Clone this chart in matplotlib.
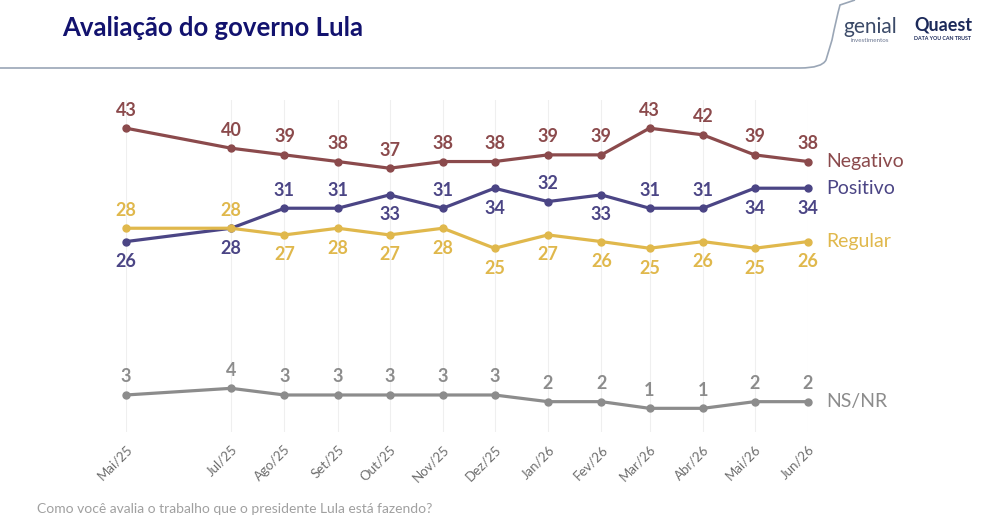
from matplotlib import pyplot as plt
from matplotlib.path import Path
from matplotlib.patches import PathPatch
import matplotlib.dates as mdates
import datetime

# survey months (Jun/25 has no poll)
meses = ["Mai/25", "Jul/25", "Ago/25", "Set/25", "Out/25", "Nov/25", "Dez/25",
         "Jan/26", "Fev/26", "Mar/26", "Abr/26", "Mai/26", "Jun/26"]
datas = [datetime.date(2025, 5, 1), datetime.date(2025, 7, 1), datetime.date(2025, 8, 1),
         datetime.date(2025, 9, 1), datetime.date(2025, 10, 1), datetime.date(2025, 11, 1),
         datetime.date(2025, 12, 1), datetime.date(2026, 1, 1), datetime.date(2026, 2, 1),
         datetime.date(2026, 3, 1), datetime.date(2026, 4, 1), datetime.date(2026, 5, 1),
         datetime.date(2026, 6, 1)]

negativo = [43, 40, 39, 38, 37, 38, 38, 39, 39, 43, 42, 39, 38]
positivo = [26, 28, 31, 31, 33, 31, 34, 32, 33, 31, 31, 34, 34]
regular = [28, 28, 27, 28, 27, 28, 25, 27, 26, 25, 26, 25, 26]
nsnr = [3, 4, 3, 3, 3, 3, 3, 2, 2, 1, 1, 2, 2]

# label side: 1 above, -1 below
lado_pos = [-1, -1, 1, 1, -1, 1, -1, 1, -1, 1, 1, -1, -1]
lado_reg = [1, 1, -1, -1, -1, -1, -1, -1, -1, -1, -1, -1, -1]

plt.rcParams['font.family'] = ['Lato', 'DejaVu Sans']

fig = plt.figure(figsize=(9.84, 5.31), dpi=100)
W, H = 984.0, 531.0

ax = fig.add_axes([126 / W, 1 - 432 / H, 682 / W, 332 / H])
ax.patch.set_alpha(0)
x0 = mdates.date2num(datas[0])
x1 = mdates.date2num(datas[-1])
ax.set_xlim(x0, x1)
# y pixel = 415 - 6.67 * v
ax.set_ylim((415 - 432) / 6.67, (415 - 100) / 6.67)

for d in datas:
    ax.axvline(d, color='#efefef', lw=0.8, zorder=1)

series = [
    ("Negativo", negativo, '#8b4a4c', [1] * 13),
    ("Positivo", positivo, '#4b4585', lado_pos),
    ("Regular", regular, '#e0b84c', lado_reg),
    ("NS/NR", nsnr, '#8c8c8c', [1] * 13),
]

for nome, vals, cor, lados in series:
    ax.plot(datas, vals, '-o', color=cor, lw=2.3, ms=5, clip_on=False, zorder=3)
    for d, v, s in zip(datas, vals, lados):
        dy = 18 if s > 0 else -20
        ax.annotate(str(v), (d, v), xytext=(0, dy), textcoords='offset pixels',
                    ha='center', va='center', fontsize=13, fontweight='bold',
                    color=cor, zorder=4)
    ax.annotate(nome, (datas[-1], vals[-1]), xytext=(18, 0), textcoords='offset pixels',
                ha='left', va='center', fontsize=14, color=cor)

ax.set_xticks(datas)
ax.set_xticklabels(meses, rotation=45, ha='right', rotation_mode='anchor',
                   fontsize=9.5, color='#6e6e6e')
ax.tick_params(axis='x', length=0, pad=8)
ax.set_yticks([])
for sp in ax.spines.values():
    sp.set_visible(False)

# header
fig.text(62 / W, 1 - 28 / H, "Avaliação do governo Lula", fontsize=18.5,
         fontweight='bold', color='#12126e', ha='left', va='center')

hdr = Path([(0, 1 - 68 / H), (800 / W, 1 - 68 / H), (822 / W, 1 - 68 / H),
            (826 / W, 1 - 60 / H), (832 / W, 1 - 40 / H),
            (836 / W, 1 - 20 / H), (840 / W, 1 - 5 / H), (855 / W, 1.0)],
           [Path.MOVETO, Path.LINETO, Path.CURVE3, Path.CURVE3,
            Path.LINETO, Path.CURVE3, Path.CURVE3, Path.LINETO])
fig.add_artist(PathPatch(hdr, transform=fig.transFigure, fill=False,
                         edgecolor='#9aa6b6', lw=1.2))

fig.text(870 / W, 1 - 27 / H, "genial", fontsize=15, color='#3b4a68',
         ha='center', va='center')
fig.text(870 / W, 1 - 40 / H, "investimentos", fontsize=4.5, color='#6a7590',
         ha='center', va='center')
fig.text(943 / W, 1 - 25 / H, "Quaest", fontsize=13, fontweight='bold',
         color='#1c2a5a', ha='center', va='center')
fig.text(943 / W, 1 - 39 / H, "DATA YOU CAN TRUST", fontsize=3.8, fontweight='bold',
         color='#1c2a5a', ha='center', va='center')

# footer
fig.text(37 / W, 1 - 509 / H, "Como você avalia o trabalho que o presidente Lula está fazendo?",
         fontsize=10, color='#a0a0a0', ha='left', va='center')

fig.savefig("out.png", dpi=100)
